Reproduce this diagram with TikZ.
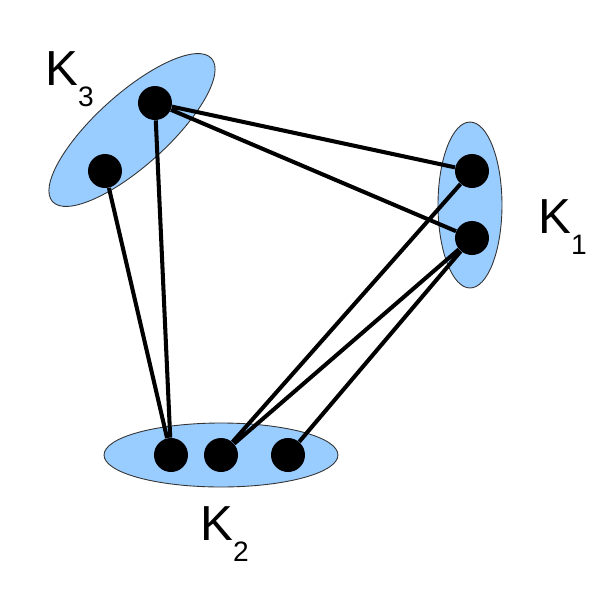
\documentclass[tikz,border=0pt]{standalone}
\usepackage{fontspec}
\setmainfont{Liberation Sans}
\definecolor{cliq}{RGB}{153,204,255}
\newcommand{\klab}[1]{{\fontsize{28}{28}\selectfont K}\raisebox{-0.42cm}{\fontsize{16}{16}\selectfont #1}}

\begin{document}
\begin{tikzpicture}[x=0.02cm,y=-0.02cm,
    vtx/.style={circle,fill=black,inner sep=0pt,minimum size=0.68cm},
    edge/.style={line width=2.3pt},
    blob/.style={fill=cliq,draw=black!80,line width=0.5pt}]
        \useasboundingbox (0,0) rectangle (600,600);
        % the three cliques
        \draw[blob, rotate around={42:(132,130)}] (132,130) ellipse [x radius=2.14cm, y radius=0.72cm];
        \draw[blob] (470,205) ellipse [x radius=0.64cm, y radius=1.66cm];
        \draw[blob] (221,455) ellipse [x radius=2.34cm, y radius=0.64cm];

        \node[vtx] (a1) at (155,103) {};
        \node[vtx] (a2) at (105,171) {};
        \node[vtx] (b1) at (472,171) {};
        \node[vtx] (b2) at (472,238) {};
        \node[vtx] (c1) at (171,455) {};
        \node[vtx] (c2) at (221,455) {};
        \node[vtx] (c3) at (288,455) {};

        \draw[edge] (a1) -- (b1) (a1) -- (b2) (a1) -- (c1);
        \draw[edge] (a2) -- (c1);
        \draw[edge] (b1) -- (c2) (b2) -- (c2) (b2) -- (c3);

        \node[anchor=base west,inner sep=0pt] (l3) at (45,85) {\klab{3}};
        \node[anchor=base west,inner sep=0pt] (l1) at (538,233) {\klab{1}};
        \node[anchor=base west,inner sep=0pt] (l2) at (200,540) {\klab{2}};
\end{tikzpicture}
\end{document}
